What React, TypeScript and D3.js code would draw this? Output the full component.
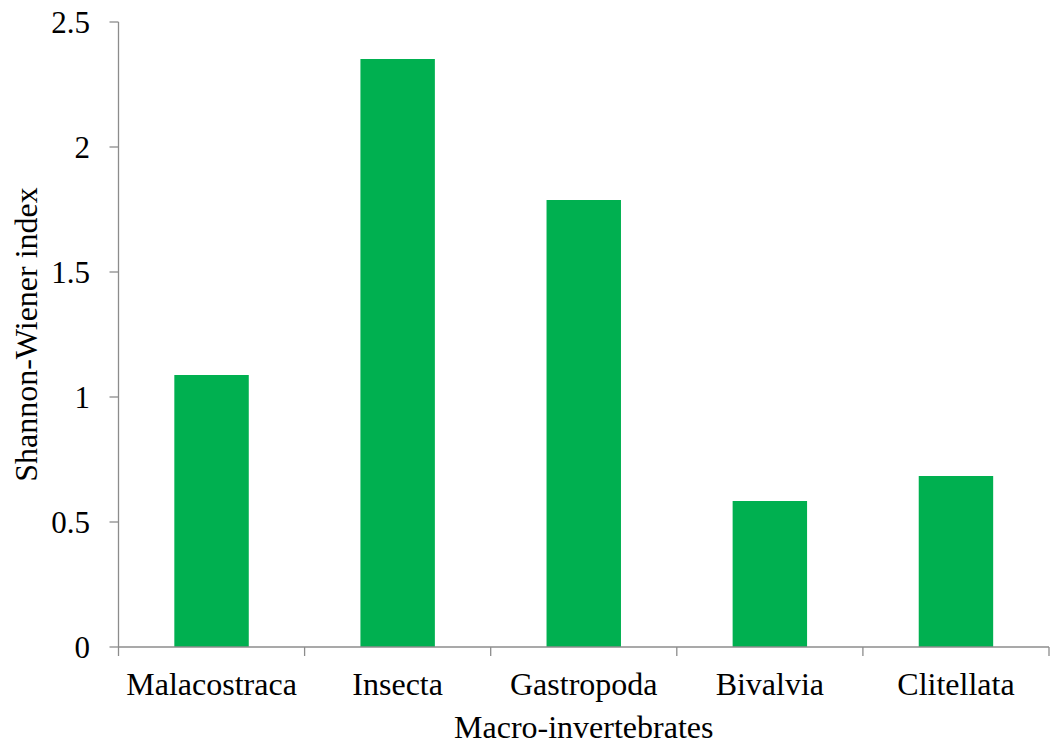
import React, { useEffect, useRef } from "react";
import * as d3 from "d3";

const categories = ["Malacostraca", "Insecta", "Gastropoda", "Bivalvia", "Clitellata"];
const values = [1.088, 2.352, 1.788, 0.584, 0.684];
const yTicks = [0, 0.5, 1, 1.5, 2, 2.5];
const yTickLabels = ["0", "0.5", "1", "1.5", "2", "2.5"];
const xTitle = "Macro-invertebrates";
const yTitle = "Shannon-Wiener index";

const W = 1054;
const H = 747;
const left = 118.5;
const right = 1049;
const top = 22;
const bottom = 647;
const font = "'Liberation Serif', 'Times New Roman', serif";
const axisColor = "#8c8c8c";
const barColor = "#00b050";

export default function App() {
  const ref = useRef<SVGSVGElement>(null);
  useEffect(() => {
    const svg = d3.select(ref.current);
    svg.selectAll("*").remove();
    const x = d3.scaleBand<string>().domain(categories).range([left, right]).paddingInner(0).paddingOuter(0);
    const y = d3.scaleLinear().domain([0, 2.5]).range([bottom, top]);
    const bw = x.bandwidth() * 0.4;

    svg.append("g").selectAll("rect").data(values).join("rect")
      .attr("x", (_, i) => x(categories[i])! + (x.bandwidth() - bw) / 2)
      .attr("y", (d) => y(d))
      .attr("width", bw)
      .attr("height", (d) => y(0) - y(d))
      .attr("fill", barColor);

    // y axis
    svg.append("line").attr("x1", left).attr("x2", left).attr("y1", y(2.5)).attr("y2", y(0))
      .attr("stroke", axisColor).attr("stroke-width", 1.3);
    yTicks.forEach((t, i) => {
      svg.append("line").attr("x1", left - 9).attr("x2", left).attr("y1", y(t)).attr("y2", y(t))
        .attr("stroke", axisColor).attr("stroke-width", 1.3);
      svg.append("text").attr("x", 90).attr("y", y(t)).attr("dy", "0.35em")
        .attr("text-anchor", "end").attr("font-family", font).attr("font-size", 31)
        .attr("fill", "#000").text(yTickLabels[i]);
    });
    // x axis
    svg.append("line").attr("x1", left).attr("x2", right).attr("y1", bottom).attr("y2", bottom)
      .attr("stroke", axisColor).attr("stroke-width", 1.3);
    const edges = categories.map((c) => x(c)!).concat([right]);
    edges.forEach((e) => {
      svg.append("line").attr("x1", e).attr("x2", e).attr("y1", bottom).attr("y2", bottom + 9)
        .attr("stroke", axisColor).attr("stroke-width", 1.3);
    });
    categories.forEach((c) => {
      svg.append("text").attr("x", x(c)! + x.bandwidth() / 2).attr("y", 695)
        .attr("text-anchor", "middle").attr("font-family", font).attr("font-size", 32)
        .attr("fill", "#000").text(c);
    });
    svg.append("text").attr("x", (left + right) / 2).attr("y", 738)
      .attr("text-anchor", "middle").attr("font-family", font).attr("font-size", 32)
      .attr("fill", "#000").text(xTitle);
    svg.append("text").attr("transform", `translate(37, ${(top + bottom) / 2}) rotate(-90)`)
      .attr("text-anchor", "middle").attr("font-family", font).attr("font-size", 32)
      .attr("fill", "#000").text(yTitle);
  }, []);
  return (
    <svg ref={ref} width={W} height={H} style={{ position: "absolute", left: 0, top: 0, background: "#fff" }} />
  );
}
